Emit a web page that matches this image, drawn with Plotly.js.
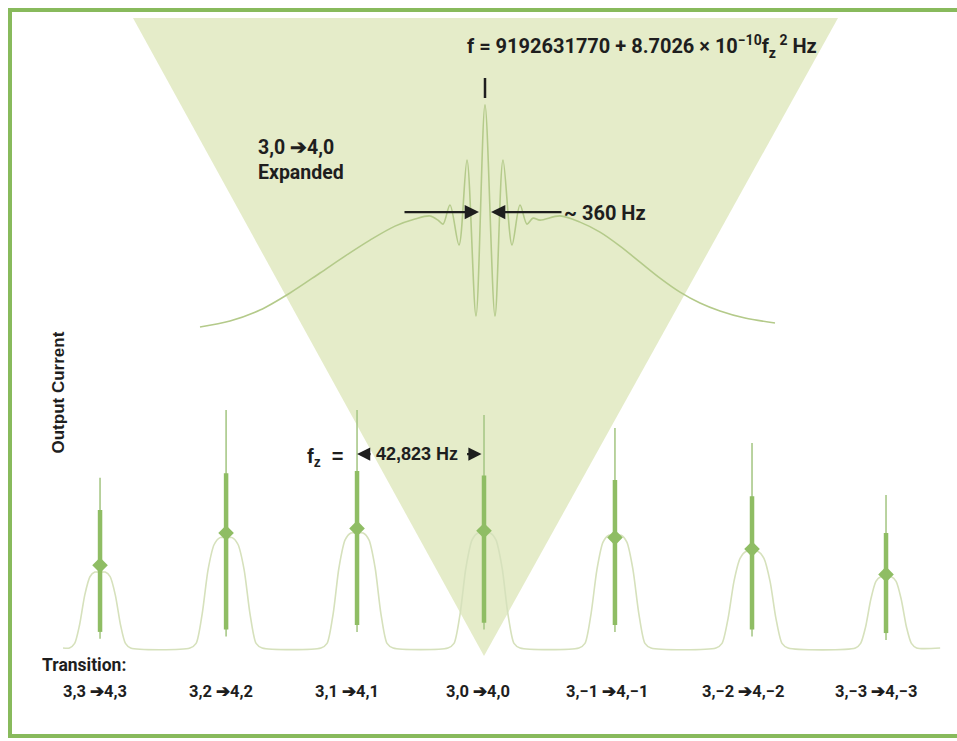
<!DOCTYPE html>
<html><head><meta charset="utf-8">
<script src="https://cdn.plot.ly/plotly-3.0.1.min.js"></script>
<style>html,body{margin:0;padding:0;background:#fff;}#chart{width:957px;height:741px;}</style>
</head><body><div id="chart"></div>
<script>
// ---- Lower spectrum: seven 3,m -> 4,m transitions (x: frequency offset, kHz; y: output current, arb.)
const transitionLabels = ['3,3 ➔4,3', '3,2 ➔4,2', '3,1 ➔4,1', '3,0 ➔4,0', '3,−1 ➔4,−1', '3,−2 ➔4,−2', '3,−3 ➔4,−3'];
const peakCenters   = [-125.5, -84.3, -41.5, 0, 42.8, 87.6, 131.4];
const spikeTops     = [0.74, 1.035, 1.035, 1.013, 0.957, 0.891, 0.665];
const fringeTops    = [0.60, 0.76, 0.77, 0.75, 0.73, 0.66, 0.50];
const fringeBottoms = [0.04, 0.05, 0.07, 0.08, 0.07, 0.05, 0.035];
const fringeCores   = [0.36, 0.50, 0.52, 0.51, 0.48, 0.43, 0.32];

const pedestalX = [-137.6,
  -135.5, -133.8, -132.2, -130.5, -128.8, -127.2, -125.5, -123.8, -122.2, -120.5, -118.8, -117.2, -115.5,
  -96.1, -94.1, -92.1, -90.2, -88.2, -86.3, -84.3, -82.3, -80.4, -78.4, -76.5, -74.5, -72.5,
  -53.3, -51.3, -49.3, -47.4, -45.4, -43.5, -41.5, -39.5, -37.6, -35.6, -33.7, -31.7, -29.7,
  -11.8, -9.8, -7.8, -5.9, -3.9, -2.0, 0, 2.0, 3.9, 5.9, 7.8, 9.8, 11.8,
  31.0, 33.0, 35.0, 36.9, 38.9, 40.8, 42.8, 44.8, 46.7, 48.7, 50.6, 52.6, 54.6,
  75.8, 77.8, 79.8, 81.7, 83.7, 85.6, 87.6, 89.6, 91.5, 93.5, 95.4, 97.4, 99.4,
  121.4, 123.1, 124.7, 126.4, 128.1, 129.7, 131.4, 133.1, 134.7, 136.4, 138.1, 139.7, 141.4,
  149.1];
const pedestalY = [0,
  0, 0.02, 0.10, 0.23, 0.31, 0.33, 0.33, 0.33, 0.31, 0.23, 0.10, 0.02, 0,
  0, 0.02, 0.15, 0.34, 0.45, 0.48, 0.48, 0.48, 0.45, 0.34, 0.15, 0.02, 0,
  0, 0.02, 0.15, 0.35, 0.47, 0.50, 0.50, 0.50, 0.47, 0.35, 0.15, 0.02, 0,
  0, 0.02, 0.15, 0.35, 0.47, 0.50, 0.50, 0.50, 0.47, 0.35, 0.15, 0.02, 0,
  0, 0.02, 0.15, 0.34, 0.46, 0.49, 0.49, 0.49, 0.46, 0.34, 0.15, 0.02, 0,
  0, 0.02, 0.13, 0.29, 0.39, 0.42, 0.42, 0.42, 0.39, 0.29, 0.13, 0.02, 0,
  0, 0.02, 0.09, 0.21, 0.29, 0.31, 0.31, 0.31, 0.29, 0.21, 0.09, 0.02, 0,
  0];

// ---- Expanded 3,0 -> 4,0 line (x: offset, Hz; y: output current, arb.)
const expandedX = [-8550, -7650, -6750, -5850, -4950, -4200, -3450, -2700, -2100, -1650, -1410, -1260, -1050,
  -780, -540, -270, 0, 300, 540, 810, 1050, 1260, 1440, 1650, 2250, 2850, 3450, 4050, 4650, 5250, 5850,
  6450, 7050, 7800, 8700];
const expandedY = [0.005, 0.032, 0.081, 0.158, 0.248, 0.324, 0.396, 0.459, 0.491, 0.505, 0.486, 0.468, 0.554,
  0.374, 0.757, 0.054, 1.005, 0.054, 0.757, 0.374, 0.554, 0.468, 0.495, 0.486, 0.505, 0.477, 0.432, 0.369,
  0.297, 0.225, 0.162, 0.113, 0.077, 0.045, 0.023];
const linewidthHz = 360;
const fzLabel = '42,823 Hz';

// ---- build traces
const spikeX = [], spikeY = [], denseX = [], denseY = [];
peakCenters.forEach((c, i) => {
  spikeX.push(c, c, null); spikeY.push(fringeBottoms[i], spikeTops[i], null);
  denseX.push(c, c, null); denseY.push(fringeBottoms[i] + 0.03, fringeTops[i], null);
});

const traces = [
  {x: pedestalX, y: pedestalY, type: 'scatter', mode: 'lines',
   line: {color: '#d6e1bc', width: 1.6, shape: 'spline', smoothing: 0.7}, hoverinfo: 'skip'},
  {x: spikeX, y: spikeY, type: 'scatter', mode: 'lines',
   line: {color: '#a8c888', width: 1.6}, hoverinfo: 'skip'},
  {x: denseX, y: denseY, type: 'scatter', mode: 'lines',
   line: {color: '#8fbd64', width: 4.5}, hoverinfo: 'skip'},
  {x: peakCenters, y: fringeCores, type: 'scatter', mode: 'markers',
   marker: {symbol: 'diamond', size: 12, color: '#8fbd64'}, hoverinfo: 'skip'},
  {x: expandedX, y: expandedY, type: 'scatter', mode: 'lines', xaxis: 'x2', yaxis: 'y2',
   line: {color: '#b4ca8a', width: 1.6, shape: 'spline', smoothing: 0.9}, hoverinfo: 'skip'}
];

const W = 957, H = 741;
const px = v => v / W, py = v => 1 - v / H;
const cond = "Roboto, 'Liberation Sans', sans-serif";
const helv = "'Liberation Sans', Arial, sans-serif";
const ink = '#1e1e1e';

const annotations = [
  {xref: 'paper', yref: 'paper', x: px(465), y: py(46), xanchor: 'left', yanchor: 'middle', showarrow: false,
   text: 'f = 9192631770 + 8.7026 × 10<sup>−10</sup>f<sub>z</sub><sup> 2</sup> Hz',
   font: {family: cond, size: 20, color: ink, weight: 700}},
  {xref: 'paper', yref: 'paper', x: px(256), y: py(160), xanchor: 'left', yanchor: 'middle', showarrow: false,
   align: 'left', text: '3,0 ➔4,0<br>Expanded', font: {family: cond, size: 19.5, color: ink, weight: 700}},
  {xref: 'paper', yref: 'paper', x: px(562), y: py(213), xanchor: 'left', yanchor: 'middle', showarrow: false,
   text: '~ 360 Hz', font: {family: cond, size: 20, color: ink, weight: 700}},
  {xref: 'x2', yref: 'y2', x: -linewidthHz / 2, y: 0.5225, ax: -76, ay: 0, text: '', showarrow: true,
   arrowhead: 2, arrowsize: 1.3, arrowwidth: 2.2, arrowcolor: ink},
  {xref: 'x2', yref: 'y2', x: linewidthHz / 2, y: 0.5225, ax: 72, ay: 0, text: '', showarrow: true,
   arrowhead: 2, arrowsize: 1.3, arrowwidth: 2.2, arrowcolor: ink},
  {xref: 'paper', yref: 'paper', x: px(46), y: py(393), textangle: -90, showarrow: false,
   text: 'Output Current', font: {family: helv, size: 17, color: ink, weight: 700}},
  {xref: 'paper', yref: 'paper', x: px(345), y: py(457), xanchor: 'right', yanchor: 'middle', showarrow: false,
   text: 'f<sub>z</sub>  =', font: {family: helv, size: 20, color: ink, weight: 700}},
  {xref: 'paper', yref: 'paper', x: px(417), y: py(454), xanchor: 'center', yanchor: 'middle', showarrow: false,
   text: fzLabel, font: {family: helv, size: 18, color: ink, weight: 700}},
  {xref: 'x', yref: 'y', x: peakCenters[2], y: 0.843, ax: 15, ay: 0, text: '', showarrow: true,
   arrowhead: 2, arrowsize: 1.2, arrowwidth: 2.2, arrowcolor: ink},
  {xref: 'x', yref: 'y', x: peakCenters[3] - 0.8, y: 0.843, ax: -16, ay: 0, text: '', showarrow: true,
   arrowhead: 2, arrowsize: 1.2, arrowwidth: 2.2, arrowcolor: ink},
  {xref: 'paper', yref: 'paper', x: px(40), y: py(665), xanchor: 'left', yanchor: 'middle', showarrow: false,
   text: 'Transition:', font: {family: cond, size: 17.5, color: ink, weight: 700}}
];
const labelPx = [95, 221, 347, 478, 607, 743, 876];
transitionLabels.forEach((t, i) => annotations.push({
  xref: 'paper', yref: 'paper', x: px(labelPx[i]), y: py(691), xanchor: 'center', yanchor: 'middle',
  showarrow: false, text: t, font: {family: cond, size: 16.5, color: ink, weight: 700}}));

const frame = '#88ba5c';
const shapes = [
  {type: 'path', xref: 'paper', yref: 'paper', layer: 'below',
   path: `M ${px(133)},${py(18)} L ${px(838)},${py(18)} L ${px(484)},${py(656)} Z`,
   fillcolor: '#e5ecc9', line: {width: 0}},
  {type: 'line', xref: 'paper', yref: 'paper', x0: px(8), x1: 1, y0: py(10), y1: py(10), line: {color: frame, width: 4}},
  {type: 'line', xref: 'paper', yref: 'paper', x0: px(10), x1: px(10), y0: py(8), y1: py(738), line: {color: frame, width: 4}},
  {type: 'line', xref: 'paper', yref: 'paper', x0: px(8), x1: 1, y0: py(736), y1: py(736), line: {color: frame, width: 4}},
  {type: 'line', xref: 'x2', yref: 'paper', x0: 0, x1: 0, y0: py(78), y1: py(98), line: {color: ink, width: 2.5}}
];

const layout = {
  width: W, height: H, margin: {l: 0, r: 0, t: 0, b: 0},
  paper_bgcolor: '#ffffff', plot_bgcolor: 'rgba(0,0,0,0)', showlegend: false,
  xaxis: {range: [-158.2, 154.6], visible: false, fixedrange: true},
  yaxis: {range: [-0.4043, 2.8174], visible: false, fixedrange: true},
  xaxis2: {range: [-14550, 14160], visible: false, overlaying: 'x', anchor: 'y2', fixedrange: true},
  yaxis2: {range: [-1.860, 1.4775], visible: false, overlaying: 'y', anchor: 'x2', fixedrange: true},
  annotations: annotations, shapes: shapes
};
Plotly.newPlot('chart', traces, layout, {staticPlot: true, displayModeBar: false});
</script></body></html>
